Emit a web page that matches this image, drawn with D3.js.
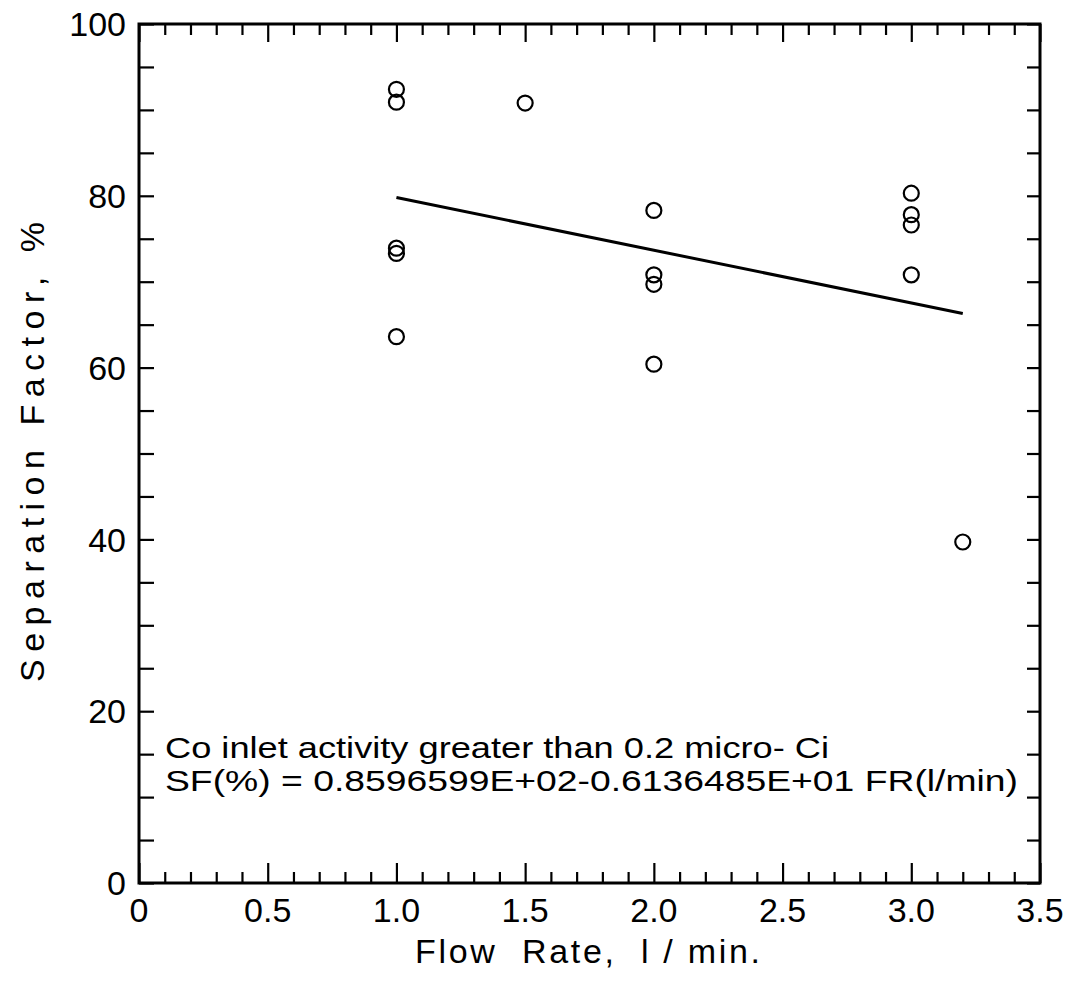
<!DOCTYPE html>
<html>
<head>
<meta charset="utf-8">
<script src="https://cdn.jsdelivr.net/npm/d3@7"></script>
<style>
  html, body { margin: 0; padding: 0; background: #fff; }
  svg text { font-family: "Liberation Sans", "DejaVu Sans", sans-serif; fill: #000; }
</style>
</head>
<body>
<svg id="chart" width="1078" height="993"></svg>
<script>
// ---- data ----
const flowRate = [1.0, 1.0, 1.0, 1.0, 1.0, 1.5, 2.0, 2.0, 2.0, 2.0, 3.0, 3.0, 3.0, 3.0, 3.2];
const sepFactor = [92.4, 90.9, 73.9, 73.3, 63.6, 90.8, 78.3, 70.8, 69.7, 60.4, 80.3, 77.8, 76.6, 70.8, 39.7];
const fitX = [1.0, 3.2];
const fitY = [79.8, 66.3];
const xTickLabels = ["0", "0.5", "1.0", "1.5", "2.0", "2.5", "3.0", "3.5"];
const xTickValues = [0, 0.5, 1.0, 1.5, 2.0, 2.5, 3.0, 3.5];
const yTickLabels = ["0", "20", "40", "60", "80", "100"];
const yTickValues = [0, 20, 40, 60, 80, 100];
const annotation1 = "Co inlet activity greater than 0.2 micro- Ci";
const annotation2 = "SF(%) = 0.8596599E+02-0.6136485E+01 FR(l/min)";
const xTitle = "Flow  Rate,  l / min.";
const yTitle = "Separation Factor, %";

// ---- layout ----
const L = 139, R = 1040, T = 24, B = 883;
const svg = d3.select("#chart");
const x = d3.scaleLinear().domain([0, 3.5]).range([L, R]);
const y = d3.scaleLinear().domain([0, 100]).range([B, T]);

const xMinor = d3.range(0, 36).map(i => i / 10);
const yMinor = d3.range(0, 21).map(i => i * 5);

const bottomAxis = d3.axisBottom(x).tickValues(xMinor).tickSize(-11).tickFormat("");
const gB = svg.append("g").attr("transform", `translate(0,${B})`).call(bottomAxis);
gB.selectAll(".tick line").attr("y2", d => (Math.round(d * 10) % 5 === 0) ? -20 : -11);
const topAxis = d3.axisTop(x).tickValues(xMinor).tickSize(-11).tickFormat("");
const gT = svg.append("g").attr("transform", `translate(0,${T})`).call(topAxis);
gT.selectAll(".tick line").attr("y2", d => (Math.round(d * 10) % 5 === 0) ? 18 : 11);
const leftAxis = d3.axisLeft(y).tickValues(yMinor).tickSize(-15).tickFormat("");
svg.append("g").attr("transform", `translate(${L},0)`).call(leftAxis);
const rightAxis = d3.axisRight(y).tickValues(yMinor).tickSize(-13).tickFormat("");
svg.append("g").attr("transform", `translate(${R},0)`).call(rightAxis);
svg.selectAll(".domain").remove();
svg.selectAll(".tick line").attr("stroke", "#000").attr("stroke-width", 2.2);

svg.append("rect").attr("x", L).attr("y", T).attr("width", R - L).attr("height", B - T)
  .attr("fill", "none").attr("stroke", "#000").attr("stroke-width", 3);

svg.append("g").selectAll("text").data(xTickValues).join("text")
  .attr("x", d => x(d)).attr("y", 922).attr("text-anchor", "middle")
  .attr("font-size", 34).text((d, i) => xTickLabels[i]);
svg.append("g").selectAll("text").data(yTickValues).join("text")
  .attr("x", 126).attr("y", d => y(d)).attr("dy", "0.36em").attr("text-anchor", "end")
  .attr("font-size", 34).text((d, i) => yTickLabels[i]);

svg.append("text").attr("x", 415).attr("y", 963).attr("font-size", 34)
  .attr("textLength", 345).attr("lengthAdjust", "spacing").style("white-space", "pre").text(xTitle);
svg.append("text").attr("transform", "translate(44,682) rotate(-90)").attr("font-size", 34)
  .attr("textLength", 460).attr("lengthAdjust", "spacing").text(yTitle);

svg.append("line")
  .attr("x1", x(fitX[0])).attr("y1", y(fitY[0]))
  .attr("x2", x(fitX[1])).attr("y2", y(fitY[1]))
  .attr("stroke", "#000").attr("stroke-width", 3);

svg.append("g").selectAll("circle").data(flowRate).join("circle")
  .attr("cx", d => x(d)).attr("cy", (d, i) => y(sepFactor[i])).attr("r", 7.5)
  .attr("fill", "none").attr("stroke", "#000").attr("stroke-width", 2.2);

svg.append("text").attr("x", 165).attr("y", 758).attr("font-size", 30)
  .attr("textLength", 664).attr("lengthAdjust", "spacingAndGlyphs").text(annotation1);
svg.append("text").attr("x", 165).attr("y", 791).attr("font-size", 30)
  .attr("textLength", 853).attr("lengthAdjust", "spacingAndGlyphs").text(annotation2);
</script>
</body>
</html>
